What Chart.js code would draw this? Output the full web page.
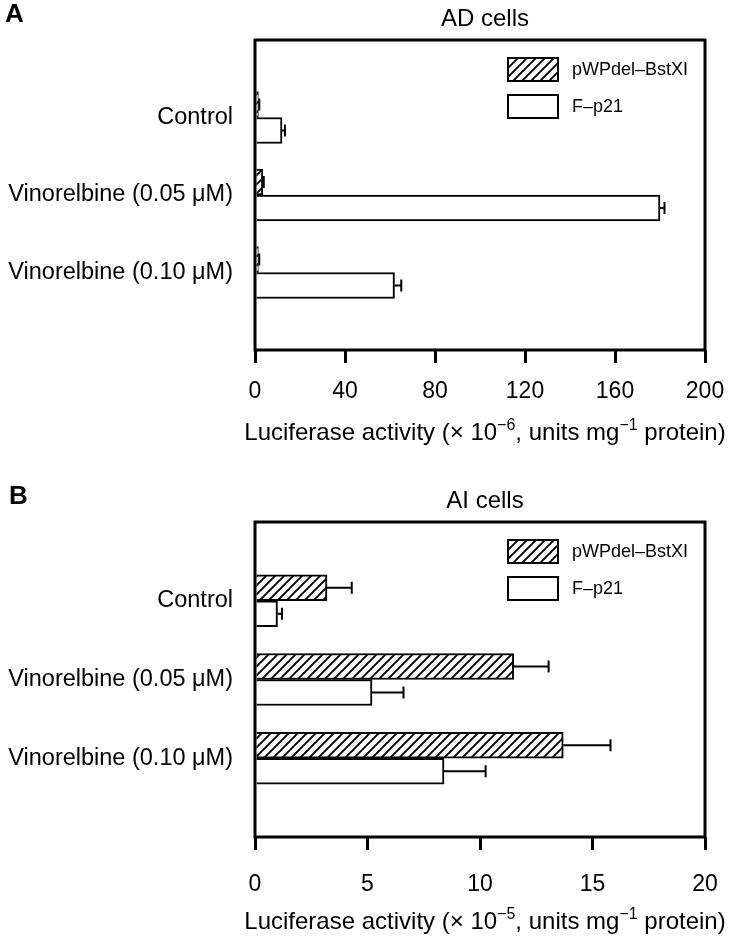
<!DOCTYPE html>
<html>
<head>
<meta charset="utf-8">
<script src="https://cdn.jsdelivr.net/npm/chart.js@4"></script>
<style>
  body { margin: 0; background: #fff; }
  canvas { position: absolute; left: 0; }
  #chartA { top: 0; }
  #chartB { top: 482px; }
</style>
</head>
<body>
<canvas id="chartA" width="732" height="470"></canvas>
<canvas id="chartB" width="732" height="457"></canvas>
<script>
const categories = ['Control', 'Vinorelbine (0.05 μM)', 'Vinorelbine (0.10 μM)'];
const seriesNames = ['pWPdel–BstXI', 'F–p21'];

// panel A, AD cells (x 10^-6)
const adTicks = [0, 40, 80, 120, 160, 200];
const adDel = [1.5, 3.5, 1.5];
const adDelErr = [0.4, 0.4, 0.4];
const adP21 = [12, 180, 62];
const adP21Err = [1.3, 2, 3];

// panel B, AI cells (x 10^-5)
const aiTicks = [0, 5, 10, 15, 20];
const aiDel = [3.2, 11.5, 13.7];
const aiDelErr = [1.1, 1.55, 2.1];
const aiP21 = [1.0, 5.2, 8.4];
const aiP21Err = [0.2, 1.4, 1.85];

const font = '"Liberation Sans", Arial, Helvetica, sans-serif';
Chart.defaults.font.family = font;
Chart.defaults.color = '#000';

function hatch() {
  const c = document.createElement('canvas');
  c.width = 9; c.height = 9;
  const g = c.getContext('2d');
  g.fillStyle = '#fff';
  g.fillRect(0, 0, 9, 9);
  g.strokeStyle = '#000';
  g.lineWidth = 1.9;
  g.beginPath();
  g.moveTo(-1, 10); g.lineTo(10, -1);
  g.moveTo(-1, 1); g.lineTo(1, -1);
  g.moveTo(8, 10); g.lineTo(10, 8);
  g.stroke();
  return g.createPattern(c, 'repeat');
}

const chartAreaBorder = {
  id: 'chartAreaBorder',
  afterDraw(chart) {
    const { ctx, chartArea: { left, top, width, height } } = chart;
    ctx.save();
    ctx.strokeStyle = '#000';
    ctx.lineWidth = 3;
    ctx.strokeRect(left, top, width, height);
    ctx.restore();
  }
};

const errorBars = {
  id: 'errorBars',
  afterDatasetsDraw(chart) {
    const { ctx, scales: { x } } = chart;
    ctx.save();
    ctx.strokeStyle = '#000';
    ctx.lineWidth = 2;
    chart.data.datasets.forEach((ds, i) => {
      chart.getDatasetMeta(i).data.forEach((bar, j) => {
        const v = ds.data[j], e = ds.errors[j];
        if (v == null || e == null) return;
        const x0 = x.getPixelForValue(v), x1 = x.getPixelForValue(v + e);
        ctx.beginPath();
        ctx.moveTo(x0, bar.y); ctx.lineTo(x1, bar.y);
        ctx.moveTo(x1, bar.y - 6); ctx.lineTo(x1, bar.y + 6);
        ctx.stroke();
      });
    });
    ctx.restore();
  }
};

const boxLegend = {
  id: 'boxLegend',
  afterDraw(chart) {
    const { ctx, chartArea: { right, top } } = chart;
    ctx.save();
    chart.data.datasets.forEach((ds, i) => {
      const bx = right - 197, by = top + 18 + i * 37;
      ctx.fillStyle = ds.backgroundColor;
      ctx.fillRect(bx, by, 50, 23);
      ctx.strokeStyle = '#000';
      ctx.lineWidth = 2;
      ctx.strokeRect(bx, by, 50, 23);
      ctx.fillStyle = '#000';
      ctx.font = '18px ' + font;
      ctx.textBaseline = 'middle';
      ctx.textAlign = 'left';
      ctx.fillText(ds.label, bx + 64, by + 12);
    });
    ctx.restore();
  }
};

const panelText = {
  id: 'panelText',
  afterDraw(chart, args, opts) {
    const { ctx, chartArea: { left, right, top, bottom } } = chart;
    const cx = (left + right) / 2 + 5;
    ctx.save();
    ctx.fillStyle = '#000';
    ctx.textBaseline = 'middle';
    ctx.font = 'bold 26px ' + font;
    ctx.textAlign = 'left';
    ctx.fillText(opts.letter, opts.letterX, 15);
    ctx.font = '24px ' + font;
    ctx.textAlign = 'center';
    ctx.fillText(opts.title, cx, top - 21);

    // x title with superscripts
    const parts = [
      ['Luciferase activity (× 10', false],
      [opts.exp, true],
      [', units mg', false],
      ['−1', true],
      [' protein)', false]
    ];
    const big = '24px ' + font, small = '16px ' + font;
    let w = 0;
    parts.forEach(([t, sup]) => { ctx.font = sup ? small : big; w += ctx.measureText(t).width; });
    let xx = cx - w / 2;
    const base = bottom + opts.titleGap;
    ctx.textAlign = 'left';
    ctx.textBaseline = 'alphabetic';
    parts.forEach(([t, sup]) => {
      ctx.font = sup ? small : big;
      ctx.fillText(t, xx, sup ? base - 10 : base);
      xx += ctx.measureText(t).width;
    });
    ctx.restore();
  }
};

function panel(id, o) {
  const wrap = a => [null, ...a, null];
  return new Chart(document.getElementById(id), {
    type: 'bar',
    plugins: [errorBars, chartAreaBorder, boxLegend, panelText],
    data: {
      labels: ['', ...categories, ''],
      datasets: [
        {
          label: seriesNames[0],
          data: wrap(o.del),
          errors: wrap(o.delErr),
          backgroundColor: hatch(),
          borderColor: '#000',
          borderWidth: 2
        },
        {
          label: seriesNames[1],
          data: wrap(o.p21),
          errors: wrap(o.p21Err),
          backgroundColor: '#fff',
          borderColor: '#000',
          borderWidth: 2
        }
      ]
    },
    options: {
      indexAxis: 'y',
      responsive: false,
      animation: false,
      layout: { padding: { top: 40, right: 27, bottom: o.bottom, left: 0 } },
      datasets: { bar: { barThickness: 26 } },
      scales: {
        x: {
          type: 'linear',
          min: 0,
          max: o.ticks[o.ticks.length - 1],
          afterBuildTicks: s => { s.ticks = o.ticks.map(v => ({ value: v })); },
          afterFit: s => { s.paddingLeft = 0; s.paddingRight = 0; },
          border: { display: false },
          grid: { drawOnChartArea: false, drawTicks: true, tickLength: 13, lineWidth: 3, color: '#000' },
          ticks: { font: { size: 23 }, padding: o.tickPad, color: '#000' }
        },
        y: {
          offset: false,
          border: { display: false },
          grid: { display: false, drawTicks: false },
          ticks: { autoSkip: false, font: { size: 23.5 }, padding: 22, color: '#000' },
          afterFit: s => { s.width = 255; }
        }
      },
      plugins: {
        legend: { display: false },
        tooltip: { enabled: false },
        panelText: o.text
      }
    }
  });
}

panel('chartA', {
  ticks: adTicks, del: adDel, delErr: adDelErr, p21: adP21, p21Err: adP21Err,
  bottom: 49.4, tickPad: 15,
  text: { letter: 'A', letterX: 5, title: 'AD cells', exp: '−6', titleGap: 90 }
});

panel('chartB', {
  ticks: aiTicks, del: aiDel, delErr: aiDelErr, p21: aiP21, p21Err: aiP21Err,
  bottom: 19.4, tickPad: 21,
  text: { letter: 'B', letterX: 9, title: 'AI cells', exp: '−5', titleGap: 92 }
});
</script>
</body>
</html>
